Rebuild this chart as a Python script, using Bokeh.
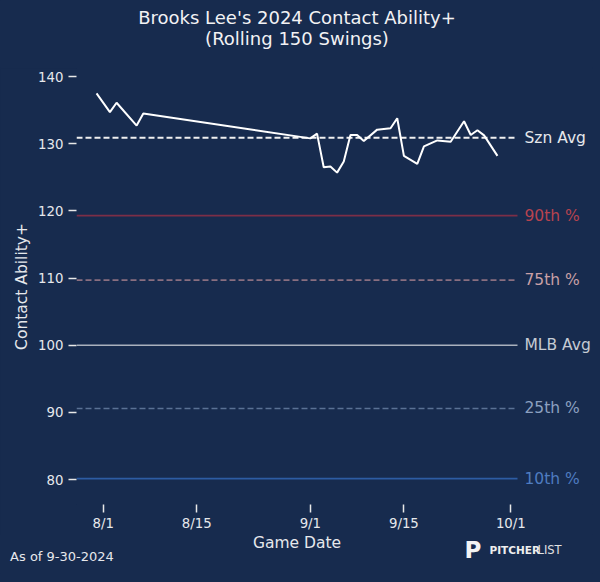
from datetime import datetime, timedelta
import pandas as pd
from bokeh.plotting import figure
from bokeh.layouts import column
from bokeh.models import Range1d, FixedTicker, DatetimeTickFormatter
from bokeh.core.properties import value
from bokeh.embed import file_html
from bokeh.resources import INLINE

# ---------------- data ----------------
game_dates = ["2024-07-31", "2024-08-02", "2024-08-03", "2024-08-06", "2024-08-07",
              "2024-09-01", "2024-09-02", "2024-09-03", "2024-09-04", "2024-09-05",
              "2024-09-06", "2024-09-07", "2024-09-08", "2024-09-09", "2024-09-11",
              "2024-09-13", "2024-09-14", "2024-09-15", "2024-09-17", "2024-09-18",
              "2024-09-20", "2024-09-22", "2024-09-24", "2024-09-25", "2024-09-26",
              "2024-09-27", "2024-09-29"]
contact_plus = [137.5, 134.7, 136.1, 132.7, 134.5,
                130.8, 131.5, 126.5, 126.6, 125.7,
                127.35, 131.3, 131.3, 130.4, 132.1,
                132.3, 133.8, 128.2, 127.0, 129.6,
                130.5, 130.3, 133.35, 131.3, 132.0,
                131.25, 128.2]

ref_names = ["Szn Avg", "90th %", "75th %", "MLB Avg", "25th %", "10th %"]
ref_values = [130.9, 119.3, 109.7, 100.0, 90.6, 80.15]

x_tick_dates = ["2024-08-01", "2024-08-15", "2024-09-01", "2024-09-15", "2024-10-01"]
y_ticks = [80, 90, 100, 110, 120, 130, 140]

title_lines = ["Brooks Lee's 2024 Contact Ability+", "(Rolling 150 Swings)"]
x_label = "Game Date"
y_label = "Contact Ability+"
as_of_text = "As of 9-30-2024"

# ---------------- styles ----------------
BG = "#172b4e"
FONT = "DejaVu Sans"
TXT = "#e6e8ec"
ref_line_colors = ["#f0f0f0", "#7c2e47", "#8a6f80", "#aab1bd", "#5a7194", "#2d5ca3"]
ref_text_colors = ["#e6e8ec", "#b8434f", "#c9a0a6", "#c6cbd4", "#8ca0c0", "#4f7cc0"]
ref_dashes = ["6 3", "solid", "6 3", "solid", "6 3", "solid"]
ref_widths = [2, 1.6, 1.6, 1.6, 1.6, 1.6]

# data window and pixel geometry
x0 = datetime(2024, 7, 28)
x1 = datetime(2024, 10, 2)
y0, y1 = 76.3, 141.2
LEFT = 76                       # px left of data window
AX_W, AX_H = 441, 436           # px of the data window
EXTRA_RIGHT = 76                # room for right-hand labels inside frame
HEAD_H = 68                     # title strip height
BOTTOM = 30                     # room for x tick labels
FOOT_H = 40                     # footer strip height
FIG_W = LEFT + AX_W + EXTRA_RIGHT
PPD = AX_W / (x1 - x0).days
xr_end = x1 + timedelta(days=EXTRA_RIGHT / PPD)


def strip(h):
    s = figure(output_backend="svg", toolbar_location=None,
               frame_width=FIG_W, frame_height=h,
               min_border_left=0, min_border_right=0, min_border_top=0, min_border_bottom=0,
               x_range=Range1d(0, FIG_W), y_range=Range1d(h, 0))
    s.axis.visible = False
    s.grid.visible = False
    s.background_fill_color = BG
    s.border_fill_color = BG
    s.outline_line_color = BG
    s.frame_align = False
    return s


# ---------------- header ----------------
h = strip(HEAD_H)
h.text(x=[LEFT + AX_W / 2] * 2, y=[16.7, 38.3], text=title_lines,
       text_color="#f2f2f4", text_font=value(FONT), text_font_size="18px",
       text_align="center", text_baseline="middle")

# ---------------- main plot ----------------
p = figure(x_axis_type="datetime", output_backend="svg", toolbar_location=None,
           frame_width=AX_W + EXTRA_RIGHT, frame_height=AX_H,
           min_border_left=LEFT, min_border_right=0, min_border_top=0,
           min_border_bottom=BOTTOM,
           x_range=Range1d(x0, xr_end), y_range=Range1d(y0, y1))
p.frame_align = False
p.background_fill_color = BG
p.border_fill_color = BG
p.outline_line_color = BG
p.grid.visible = False

for ax in (p.xaxis[0], p.yaxis[0]):
    ax.axis_line_color = None
    ax.major_tick_in = 0
    ax.major_tick_out = 8
    ax.major_tick_line_color = "#e8e8e8"
    ax.major_tick_line_width = 1.5
    ax.minor_tick_line_color = None
    ax.major_label_text_color = TXT
    ax.major_label_text_font = FONT
    ax.major_label_text_font_size = "13.3px"
    ax.axis_label_text_color = TXT
    ax.axis_label_text_font = FONT
    ax.axis_label_text_font_size = "15.5px"
    ax.axis_label_text_font_style = "normal"

p.xaxis.ticker = FixedTicker(ticks=[pd.Timestamp(d).value / 1e6 for d in x_tick_dates])
fmt = "%-m/%-d"
p.xaxis.formatter = DatetimeTickFormatter(days=fmt, months=fmt, hours=fmt, years=fmt,
                                          milliseconds=fmt, seconds=fmt, minutes=fmt,
                                          minsec=fmt, hourmin=fmt)
p.xaxis.major_label_standoff = 3

p.yaxis.ticker = FixedTicker(ticks=y_ticks)
p.yaxis.axis_label = y_label
p.yaxis.major_label_standoff = 5
p.yaxis.axis_label_standoff = 4

# reference lines across the data window
for val, lc, dash, w in zip(ref_values, ref_line_colors, ref_dashes, ref_widths):
    p.line([x0, x1], [val, val], line_color=lc, line_width=w, line_dash=dash)

p.text(x=[x1] * len(ref_names), y=ref_values, text=ref_names, text_color=ref_text_colors,
       x_offset=7, text_font=value(FONT), text_font_size="15.5px",
       text_baseline="middle", text_align="left")

# rolling series
p.line(pd.to_datetime(game_dates), contact_plus, line_color="#ffffff", line_width=2)

# ---------------- footer ----------------
f = strip(FOOT_H)
f.text(x=[LEFT + AX_W / 2], y=[8], text=[x_label], text_color=TXT,
       text_font=value(FONT), text_font_size="15.5px",
       text_align="center", text_baseline="middle")
f.text(x=[9.6], y=[22], text=[as_of_text], text_color=TXT,
       text_font=value(FONT), text_font_size="13px",
       text_align="left", text_baseline="middle")
f.text(x=[464], y=[15.5], text=["P"], text_color="#f4f4f4",
       text_font=value(FONT), text_font_size="23px", text_font_style="bold",
       text_align="left", text_baseline="middle")
f.text(x=[489], y=[15.5], text=["PITCHER"], text_color="#eeeeee",
       text_font=value(FONT), text_font_size="10.5px", text_font_style="bold",
       text_align="left", text_baseline="middle")
f.text(x=[537], y=[15.5], text=["LIST"], text_color="#e2e2e2",
       text_font=value(FONT), text_font_size="11.5px",
       text_align="left", text_baseline="middle")

layout = column(h, p, f, spacing=0)
html = file_html(layout, INLINE)
css = "<style>html, body { background-color: %s; }</style>" % BG
html = html.replace("</head>", css + "</head>", 1)
open("out.html", "w").write(html)
